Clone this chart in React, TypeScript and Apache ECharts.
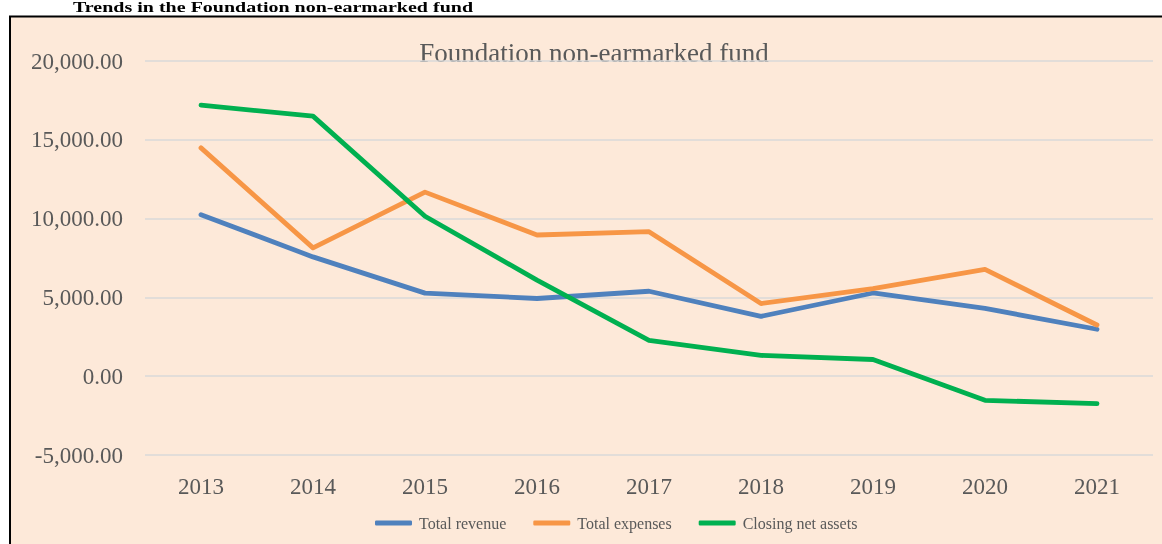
import React, { useEffect, useRef } from "react";
import * as echarts from "echarts";

const years = ["2013", "2014", "2015", "2016", "2017", "2018", "2019", "2020", "2021"];
const totalRevenue = [10250, 7570, 5270, 4930, 5390, 3800, 5280, 4300, 2980];
const totalExpenses = [14490, 8140, 11680, 8960, 9170, 4610, 5560, 6780, 3250];
const closingNetAssets = [17200, 16500, 10150, 6100, 2270, 1320, 1060, -1530, -1740];
const seriesNames = ["Total revenue", "Total expenses", "Closing net assets"];
const seriesColors = ["#4F81BD", "#F79646", "#00B050"];

const serif = "'Liberation Serif', 'Times New Roman', serif";

export default function App() {
  const ref = useRef<HTMLDivElement>(null);
  useEffect(() => {
    if (!ref.current) return;
    const chart = echarts.init(ref.current, undefined, { renderer: "svg" });
    const data = [totalRevenue, totalExpenses, closingNetAssets];
    chart.setOption({
      animation: false,
      textStyle: { fontFamily: serif },
      graphic: [
        {
          type: "rect",
          z: -10,
          shape: { x: 10, y: 16.5, width: 1160, height: 540 },
          style: { fill: "#FDE9D9", stroke: "#000000", lineWidth: 2 },
        },
        {
          type: "text",
          x: 273,
          y: 15,
          scaleX: 1.43,
          style: {
            text: "Trends in the Foundation non-earmarked fund",
            fontFamily: serif,
            fontWeight: "bold",
            fontSize: 14,
            fill: "#000000",
            textAlign: "center",
            textVerticalAlign: "bottom",
          },
        },
        {
          type: "text",
          x: 594,
          y: 53,
          style: {
            text: "Foundation non-earmarked fund",
            fontFamily: serif,
            fontSize: 27,
            fill: "#595959",
            textAlign: "center",
            textVerticalAlign: "middle",
          },
        },
      ],
      legend: {
        left: 375,
        top: 515,
        padding: 0,
        icon: "roundRect",
        itemWidth: 37,
        itemHeight: 5,
        itemGap: 27,
        textStyle: { fontFamily: serif, fontSize: 16, color: "#595959", padding: [0, 0, 0, 2] },
        data: seriesNames,
      },
      grid: { left: 145, right: 9, top: 61, bottom: 89, containLabel: false },
      xAxis: {
        type: "category",
        data: years,
        boundaryGap: true,
        axisLine: { show: false, onZero: false },
        axisTick: { show: false },
        axisLabel: { color: "#595959", fontSize: 23, fontFamily: serif, margin: 20 },
      },
      yAxis: {
        type: "value",
        min: -5000,
        max: 20000,
        interval: 5000,
        axisLine: { show: false },
        axisTick: { show: false },
        splitLine: { lineStyle: { color: "#D9D9D9", width: 1.5 } },
        axisLabel: {
          color: "#595959",
          fontSize: 23,
          fontFamily: serif,
          margin: 22,
          formatter: (v: number) =>
            v.toLocaleString("en-US", { minimumFractionDigits: 2, maximumFractionDigits: 2 }),
        },
      },
      series: seriesNames.map((name, i) => ({
        name,
        type: "line",
        data: data[i],
        symbol: "none",
        showSymbol: false,
        color: seriesColors[i],
        lineStyle: { width: 4.8, color: seriesColors[i], cap: "round", join: "round" },
      })),
    });
    return () => chart.dispose();
  }, []);
  return (
    <div
      ref={ref}
      style={{ position: "fixed", left: 0, top: 0, width: 1162, height: 544 }}
    />
  );
}
